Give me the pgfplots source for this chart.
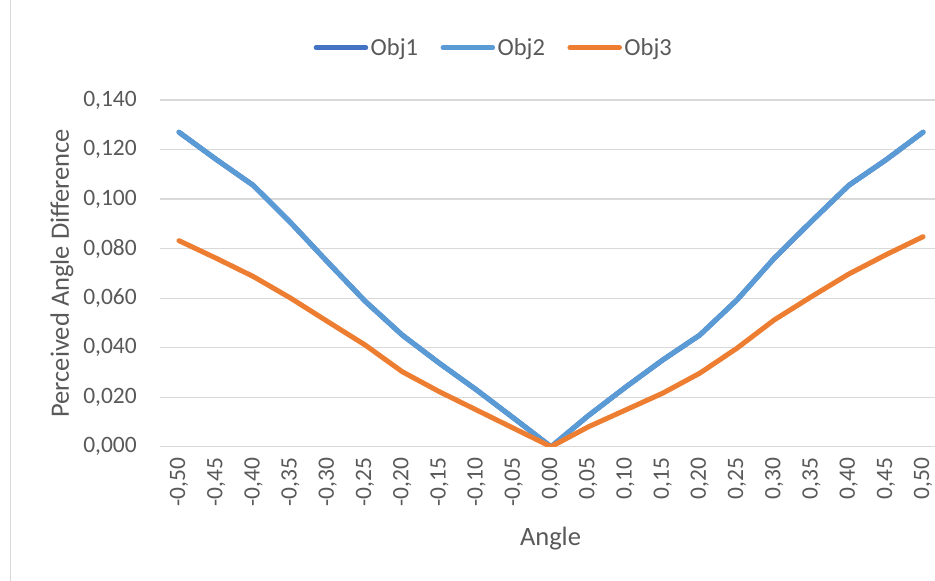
\documentclass[border=0pt]{standalone}
\usepackage{pgfplots}
\pgfplotsset{compat=1.18}
\usepackage{pgfplotstable}
\usepackage{fontspec}
\setmainfont{Carlito}

\definecolor{objA}{HTML}{4472C4}
\definecolor{objB}{HTML}{5B9BD5}
\definecolor{objC}{HTML}{ED7D31}
\definecolor{txt}{HTML}{595959}
\definecolor{gridc}{HTML}{D9D9D9}

% idx 0..20 stands for angles -0.50 .. 0.50 in steps of 0.05
\pgfplotstableread{
idx objA   objB   objC
0   0.1270 0.1270 0.0832
1   0.1160 0.1160 0.0761
2   0.1055 0.1055 0.0687
3   0.0905 0.0905 0.0600
4   0.0745 0.0745 0.0505
5   0.0588 0.0588 0.0411
6   0.0451 0.0451 0.0303
7   0.0337 0.0337 0.0222
8   0.0229 0.0229 0.0148
9   0.0115 0.0115 0.0074
10  0.0000 0.0000 0.0000
11  0.0125 0.0125 0.0080
12  0.0240 0.0240 0.0148
13  0.0350 0.0350 0.0216
14  0.0451 0.0451 0.0297
15  0.0593 0.0593 0.0398
16  0.0761 0.0761 0.0512
17  0.0910 0.0910 0.0606
18  0.1055 0.1055 0.0697
19  0.1158 0.1158 0.0775
20  0.1270 0.1270 0.0848
}\angledata

\newcommand\chartfont{\fontsize{23.5}{28}\selectfont}
\newcommand\legendfont{\fontsize{24.5}{29}\selectfont}
\newcommand\titlefont{\fontsize{26.5}{31}\selectfont}

\begin{document}
\begin{tikzpicture}[x=1pt,y=1pt]
\draw[gridc, line width=1.2pt] (10.5,0) -- (10.5,581);
\begin{axis}[
  at={(160pt,134.3pt)}, anchor=south west,
  scale only axis, width=775pt, height=346.7pt,
  xmin=-0.51, xmax=20.32, ymin=0, ymax=0.14,
  xtick={0,...,20},
  xticklabels={{-0,50},{-0,45},{-0,40},{-0,35},{-0,30},{-0,25},{-0,20},{-0,15},{-0,10},{-0,05},{0,00},{0,05},{0,10},{0,15},{0,20},{0,25},{0,30},{0,35},{0,40},{0,45},{0,50}},
  ytick={0,0.02,0.04,0.06,0.08,0.10,0.12,0.14},
  /pgf/number format/.cd, fixed, fixed zerofill, precision=3, use comma, assume math mode=true,
  /pgfplots/.cd,
  axis line style={draw=none},
  tick style={draw=none},
  ymajorgrids,
  grid style={gridc, line width=1.2pt},
  every tick label/.append style={font=\chartfont, text=txt},
  yticklabel style={anchor=east, inner sep=0pt, xshift=-23pt},
  xticklabel style={yshift=-11pt, rotate=90, anchor=east, inner sep=0pt},
  xlabel={Angle},
  ylabel={Perceived Angle Difference},
  every axis x label/.style={at={(axis description cs:0.5,0)}, xshift=3pt, yshift=-92pt, anchor=center, font=\titlefont, text=txt},
  every axis y label/.style={at={(axis description cs:0,0.5)}, xshift=-98pt, rotate=90, anchor=center, font=\titlefont, text=txt},
  legend columns=3,
  legend style={draw=none, fill=none, at={(axis description cs:0.431,1.151)}, anchor=center,
    font=\legendfont, text=txt, nodes={inner sep=2.5pt},
    /tikz/every even column/.append style={column sep=20pt}},
  legend image code/.code={\draw[#1, line width=4.5pt, line cap=round] (0pt,0pt) -- (50pt,0pt);},
  every axis plot/.append style={line width=5pt, line join=round, line cap=round},
]
\addplot[objA] table[x=idx, y=objA] {\angledata};
\addlegendentry{Obj1}
\addplot[objB] table[x=idx, y=objB] {\angledata};
\addlegendentry{Obj2}
\addplot[objC] table[x=idx, y=objC] {\angledata};
\addlegendentry{Obj3}
\end{axis}
\pgfresetboundingbox
\useasboundingbox (0,0) rectangle (935,581);
\end{tikzpicture}
\end{document}
